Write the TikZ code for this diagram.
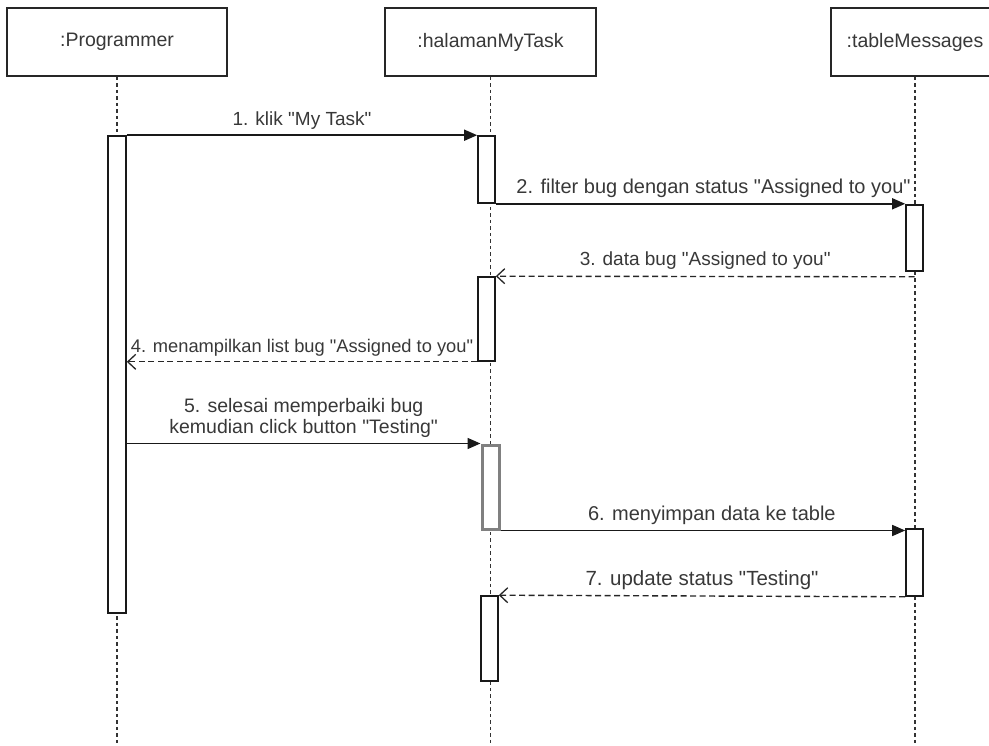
\documentclass[tikz,border=0pt]{standalone}
\usepackage{fontspec}
\setmainfont{Liberation Sans}
\usetikzlibrary{arrows.meta}
% straight double quotes around a phrase
\newcommand{\qt}[1]{\textquotedbl#1\textquotedbl}
\begin{document}
\begin{tikzpicture}[x=1pt,y=-1pt,
  obj/.style={draw=black!85, line width=1.7pt, fill=white, minimum height=68pt,
    inner sep=0pt, font=\fontsize{19.5}{23}\selectfont, text=black!78},
  lifeline/.style={draw=black!80, line width=1.4pt, dash pattern=on 3.5pt off 3pt},
  actbar/.style={draw=black!90, line width=1.6pt, fill=white, inner sep=0pt,
    minimum width=17pt},
  actgray/.style={actbar, draw=black!50, line width=3pt},
  call/.style={draw=black!90, line width=1.5pt, -{Triangle[length=13pt,width=11pt]}},
  reply/.style={draw=black!85, line width=1.4pt, dash pattern=on 6pt off 3.5pt,
    -{Straight Barb[length=8pt,width=15pt,line width=1.3pt]}},
  lbl/.style={font=\fontsize{#1}{21.5}\selectfont, text=black!78, inner sep=0pt,
    align=center},
  lbl/.default=19.5]

\useasboundingbox (0,0) rectangle (989,746);
\clip (0,0) rectangle (989,746);

% object heads
\node[obj, minimum width=220pt] (prog) at (117,42) {:Programmer};
\node[obj, minimum width=211pt] (page) at (490.5,42) {:halamanMyTask};
\node[obj, minimum width=168pt] (tbl)  at (915,42) {:tableMessages};

% lifelines
\coordinate (progEnd) at (117,746);
\coordinate (pageEnd) at (490.5,746);
\coordinate (tblEnd)  at (915,746);
\draw[lifeline] (prog.south) -- (progEnd);
\draw[lifeline] (page.south) -- (pageEnd);
\draw[lifeline] (tbl.south) -- (tblEnd);

% activation bars
\node[actbar, minimum width=18pt, minimum height=477pt] (pa) at (117,374.5) {};
\node[actbar, minimum height=67pt] (h1) at (486.5,169.5) {};
\node[actbar, minimum height=84pt] (h2) at (486.5,319) {};
\node[actgray, minimum height=84pt] (h3) at (490.5,487) {};
\node[actbar, minimum height=85pt] (h4) at (489.5,638.5) {};
\node[actbar, minimum height=66pt] (t1) at (914.5,238) {};
\node[actbar, minimum height=67pt] (t2) at (914.5,562.5) {};

% messages
\draw[call] (pa.north east) -- (h1.north west)
  node[lbl=19, midway, above=5pt] {1. klik \qt{My Task}};
\draw[call] (h1.south east) -- (h1.south east -| t1.west)
  node[lbl=20, midway, above=5pt, xshift=13pt] {2. filter bug dengan status \qt{Assigned to you}};
\draw[reply] ([yshift=-5pt]t1.south) -- (h2.north east)
  node[lbl=19, midway, above=6pt] {3. data bug \qt{Assigned to you}};
\draw[reply] (h2.south west) -- (h2.south west -| pa.east)
  node[lbl=18.3, midway, above=5pt] {4. menampilkan list bug \qt{Assigned to you}};
\draw[call] (pa.east |- h3.north) -- (h3.north west)
  node[lbl, midway, above=5pt] {5. selesai memperbaiki bug\\kemudian click button \qt{Testing}};
\draw[call] (h3.south east) -- (h3.south east -| t2.west)
  node[lbl=20, midway, above=5pt, xshift=9pt] {6. menyimpan data ke table};
\draw[reply] (t2.south west) -- (h4.north east)
  node[lbl=20.5, midway, above=6pt] {7. update status \qt{Testing}};

\end{tikzpicture}
\end{document}
